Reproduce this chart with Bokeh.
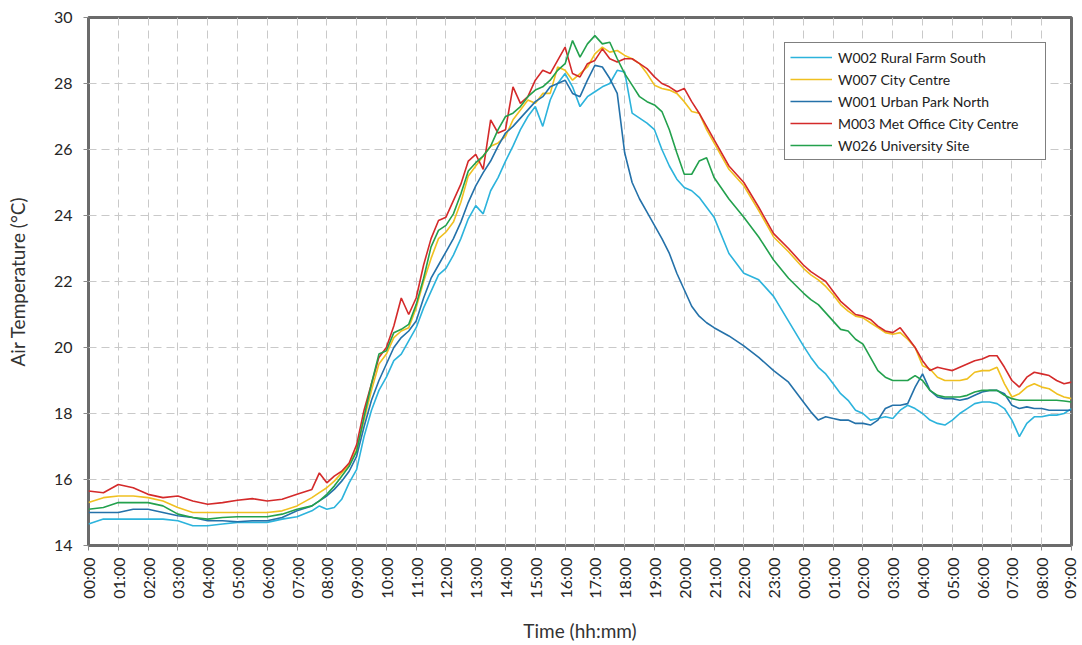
import math
from bokeh.plotting import figure
from bokeh.models import FixedTicker, Legend, LegendItem, Range1d
from bokeh.embed import file_html
from bokeh.resources import INLINE

# hours since 00:00 of day 1 (33 h window, 00:00 -> 09:00 next day)
TIME_H = [0, 0.5, 1, 1.5, 2, 2.5, 3, 3.5, 4, 4.5, 5, 5.5, 6, 6.5, 7, 7.5,
          7.75, 8, 8.25, 8.5, 8.75, 9, 9.25, 9.5, 9.75, 10, 10.25, 10.5, 10.75,
          11, 11.25, 11.5, 11.75, 12, 12.25, 12.5, 12.75, 13, 13.25, 13.5, 13.75,
          14, 14.25, 14.5, 14.75, 15, 15.25, 15.5, 15.75, 16, 16.25, 16.5, 16.75,
          17, 17.25, 17.5, 17.75, 18, 18.25, 18.5, 18.75, 19, 19.25, 19.5, 19.75,
          20, 20.25, 20.5, 20.75, 21,
          21.5, 22, 22.5, 23, 23.5, 24,
          24.25, 24.5, 24.75, 25, 25.25, 25.5, 25.75, 26, 26.25, 26.5, 26.75, 27,
          27.25, 27.5, 27.75, 28, 28.25, 28.5, 28.75, 29, 29.25, 29.5, 29.75, 30,
          30.25, 30.5, 30.75, 31, 31.25, 31.5, 31.75, 32, 32.25, 32.5, 32.75, 33]

W002_RURAL_FARM_SOUTH = [
    14.65, 14.8, 14.8, 14.8, 14.8, 14.8, 14.75, 14.6, 14.6, 14.65, 14.7, 14.7, 14.7, 14.8, 14.87, 15.05,
    15.2, 15.1, 15.15, 15.4, 15.9, 16.3, 17.3, 18.1, 18.7, 19.1, 19.6, 19.8, 20.2, 20.6, 21.2,
    21.7, 22.2, 22.4, 22.8, 23.3, 23.9, 24.3, 24.05, 24.75, 25.15, 25.65, 26.1, 26.6, 27.0, 27.3,
    26.7, 27.5, 28.0, 28.3, 27.9, 27.3, 27.6, 27.75, 27.9, 28.0, 28.4, 28.35, 27.1, 26.95, 26.8,
    26.6, 26.0, 25.5, 25.1, 24.85, 24.75, 24.55, 24.25, 23.95,
    22.85, 22.25, 22.05, 21.55, 20.8, 20.05,
    19.7, 19.4, 19.2, 18.9, 18.6, 18.4, 18.1, 18.0, 17.8, 17.85, 17.9, 17.85,
    18.1, 18.25, 18.15, 18.0, 17.8, 17.7, 17.65, 17.8, 18.0, 18.15, 18.3, 18.35,
    18.35, 18.3, 18.15, 17.8, 17.3, 17.7, 17.9, 17.9, 17.95, 17.95, 18.0, 18.15]

W007_CITY_CENTRE = [
    15.3, 15.45, 15.5, 15.5, 15.45, 15.35, 15.15, 15.0, 15.0, 15.0, 15.0, 15.0, 15.0, 15.05, 15.2, 15.45,
    15.6, 15.75, 15.95, 16.2, 16.45, 16.9, 17.8, 18.7, 19.5, 19.8, 20.3, 20.5, 20.6, 21.2, 22.0,
    22.7, 23.3, 23.5, 23.8, 24.4, 25.2, 25.5, 25.8, 26.1, 26.2, 26.4, 26.9, 27.2, 27.5, 27.4,
    27.7, 27.7, 28.5, 28.4, 28.1, 28.3, 28.5, 28.9, 29.1, 28.95, 29.0, 28.85, 28.75, 28.6, 28.3,
    27.95, 27.85, 27.8, 27.7, 27.45, 27.15, 27.1, 26.6, 26.2,
    25.4, 24.9, 24.15, 23.35, 22.9, 22.4,
    22.2, 22.05, 21.85, 21.6, 21.3, 21.1, 20.95, 20.9, 20.75, 20.6, 20.45, 20.4,
    20.45, 20.25, 20.0, 19.45, 19.35, 19.1, 19.0, 19.0, 19.0, 19.05, 19.25, 19.3,
    19.3, 19.4, 18.9, 18.5, 18.6, 18.8, 18.9, 18.8, 18.75, 18.6, 18.5, 18.45]

W001_URBAN_PARK_NORTH = [
    15.0, 15.0, 15.0, 15.1, 15.1, 15.0, 14.9, 14.85, 14.75, 14.75, 14.72, 14.75, 14.75, 14.85, 15.05, 15.2,
    15.35, 15.5, 15.7, 15.95, 16.25, 16.7, 17.6, 18.4, 19.0, 19.5, 20.0, 20.3, 20.5, 20.8, 21.5,
    22.1, 22.5, 22.9, 23.3, 23.8, 24.4, 24.9, 25.3, 25.65, 26.1, 26.5, 26.7, 26.95, 27.2, 27.45,
    27.6, 27.9, 28.0, 28.1, 27.7, 27.6, 28.1, 28.55, 28.5, 28.15, 27.7, 25.9, 25.0, 24.5, 24.1,
    23.7, 23.3, 22.85, 22.25, 21.75, 21.25, 20.95, 20.75, 20.6,
    20.35, 20.05, 19.7, 19.3, 18.95, 18.35,
    18.05, 17.8, 17.9, 17.85, 17.8, 17.8, 17.7, 17.7, 17.65, 17.8, 18.15, 18.25,
    18.25, 18.3, 18.8, 19.2, 18.7, 18.5, 18.45, 18.45, 18.4, 18.45, 18.55, 18.65,
    18.7, 18.7, 18.6, 18.25, 18.15, 18.2, 18.15, 18.15, 18.1, 18.1, 18.1, 18.1]

M003_MET_OFFICE_CITY_CENTRE = [
    15.65, 15.6, 15.85, 15.75, 15.55, 15.45, 15.5, 15.35, 15.25, 15.3, 15.37, 15.42, 15.35, 15.4, 15.55, 15.7,
    16.2, 15.9, 16.1, 16.25, 16.5, 17.05, 18.1, 18.9, 19.7, 20.0, 20.65, 21.5, 21.0, 21.5, 22.5,
    23.3, 23.85, 23.95, 24.45, 24.95, 25.65, 25.85, 25.4, 26.9, 26.5, 26.6, 27.9, 27.4, 27.6, 28.1,
    28.4, 28.3, 28.7, 29.1, 28.3, 28.2, 28.6, 28.7, 29.05, 28.75, 28.65, 28.75, 28.75, 28.6, 28.45,
    28.2, 28.0, 27.9, 27.75, 27.85, 27.45, 27.1, 26.7, 26.3,
    25.5, 25.0, 24.25, 23.45, 23.0, 22.5,
    22.3, 22.15, 22.0, 21.7, 21.4, 21.2, 21.0, 20.95, 20.85, 20.65, 20.5, 20.45,
    20.6, 20.3, 20.0, 19.6, 19.3, 19.4, 19.35, 19.3, 19.4, 19.5, 19.6, 19.65,
    19.75, 19.75, 19.4, 19.0, 18.8, 19.1, 19.25, 19.2, 19.15, 19.0, 18.9, 18.95]

W026_UNIVERSITY_SITE = [
    15.1, 15.15, 15.3, 15.3, 15.3, 15.2, 14.95, 14.85, 14.8, 14.85, 14.87, 14.87, 14.87, 14.95, 15.1, 15.2,
    15.35, 15.55, 15.8, 16.1, 16.4, 16.85, 17.9, 18.9, 19.8, 19.9, 20.45, 20.55, 20.7, 21.3, 22.1,
    23.05, 23.55, 23.7, 24.05, 24.65, 25.35, 25.6, 25.8, 26.1, 26.6, 27.0, 27.1, 27.3, 27.6, 27.8,
    27.9, 28.1, 28.4, 28.6, 29.3, 28.8, 29.2, 29.45, 29.2, 29.25, 28.75, 28.3, 27.95, 27.6, 27.45,
    27.35, 27.15, 26.6, 25.9, 25.25, 25.25, 25.65, 25.75, 25.15,
    24.5, 23.95, 23.35, 22.65, 22.1, 21.65,
    21.45, 21.3, 21.05, 20.8, 20.55, 20.5, 20.25, 20.1, 19.7, 19.3, 19.1, 19.0,
    19.0, 19.0, 19.15, 19.0, 18.7, 18.55, 18.5, 18.5, 18.5, 18.55, 18.65, 18.7,
    18.7, 18.7, 18.55, 18.45, 18.4, 18.4, 18.4, 18.4, 18.4, 18.4, 18.38, 18.35]

SERIES_NAMES = ["W002 Rural Farm South", "W007 City Centre", "W001 Urban Park North",
                "M003 Met Office City Centre", "W026 University Site"]
SERIES_VALUES = [W002_RURAL_FARM_SOUTH, W007_CITY_CENTRE, W001_URBAN_PARK_NORTH,
                 M003_MET_OFFICE_CITY_CENTRE, W026_UNIVERSITY_SITE]
SERIES_COLORS = ["#2cb3dc", "#f0c020", "#2471a9", "#d42a2a", "#23a14d"]

X_TICKS = list(range(34))
X_TICK_LABELS = ["00:00", "01:00", "02:00", "03:00", "04:00", "05:00", "06:00", "07:00",
                 "08:00", "09:00", "10:00", "11:00", "12:00", "13:00", "14:00", "15:00",
                 "16:00", "17:00", "18:00", "19:00", "20:00", "21:00", "22:00", "23:00",
                 "00:00", "01:00", "02:00", "03:00", "04:00", "05:00", "06:00", "07:00",
                 "08:00", "09:00"]
Y_TICKS = [14, 16, 18, 20, 22, 24, 26, 28, 30]

for v in SERIES_VALUES:
    assert len(v) == len(TIME_H), (len(v), len(TIME_H))

FONT = "Lato"

p = figure(width=1078, height=644, x_range=Range1d(0, 33), y_range=Range1d(14, 30),
           output_backend="svg", toolbar_location=None,
           min_border_left=88, min_border_right=7, min_border_top=17, min_border_bottom=99,
           background_fill_color="white", border_fill_color="white")

p.outline_line_color = "#6b6b6b"
p.outline_line_width = 3

for g in (p.xgrid, p.ygrid):
    g.grid_line_color = "#c9c9c9"
    g.grid_line_dash = "8 5"
    g.grid_line_width = 1

p.xaxis.ticker = FixedTicker(ticks=X_TICKS)
p.xaxis.major_label_overrides = {i: lbl for i, lbl in zip(X_TICKS, X_TICK_LABELS)}
p.xaxis.major_label_orientation = math.pi / 2
p.yaxis.ticker = FixedTicker(ticks=Y_TICKS)

for ax in (p.xaxis, p.yaxis):
    ax.axis_line_color = None
    ax.major_tick_line_color = "#8a8a8a"
    ax.major_tick_out = 5
    ax.major_tick_in = 0
    ax.minor_tick_line_color = None
    ax.major_label_text_font = FONT
    ax.major_label_text_font_size = "16px"
    ax.major_label_text_color = "#262626"
    ax.axis_label_text_font = FONT
    ax.axis_label_text_font_size = "19px"
    ax.axis_label_text_font_style = "normal"
    ax.axis_label_text_color = "#333333"

p.xaxis.axis_label = "Time (hh:mm)"
p.yaxis.axis_label = "Air Temperature (°C)"
p.xaxis.major_label_standoff = 7
p.yaxis.major_label_standoff = 11
p.xaxis.axis_label_standoff = 17
p.yaxis.axis_label_standoff = 22

items = []
for name, vals, col in zip(SERIES_NAMES, SERIES_VALUES, SERIES_COLORS):
    r = p.line(TIME_H, vals, line_color=col, line_width=1.6)
    items.append(LegendItem(label=name, renderers=[r]))

legend = Legend(items=items, location="top_right", margin=25,
                border_line_color="black", border_line_width=1,
                background_fill_color="white", background_fill_alpha=1,
                padding=5, spacing=4, label_height=18, glyph_height=18,
                glyph_width=42, label_standoff=6, label_width=202,
                label_text_font=FONT, label_text_font_size="14px",
                label_text_color="#222222")
p.add_layout(legend)

open("out.html", "w").write(file_html(p, INLINE))
